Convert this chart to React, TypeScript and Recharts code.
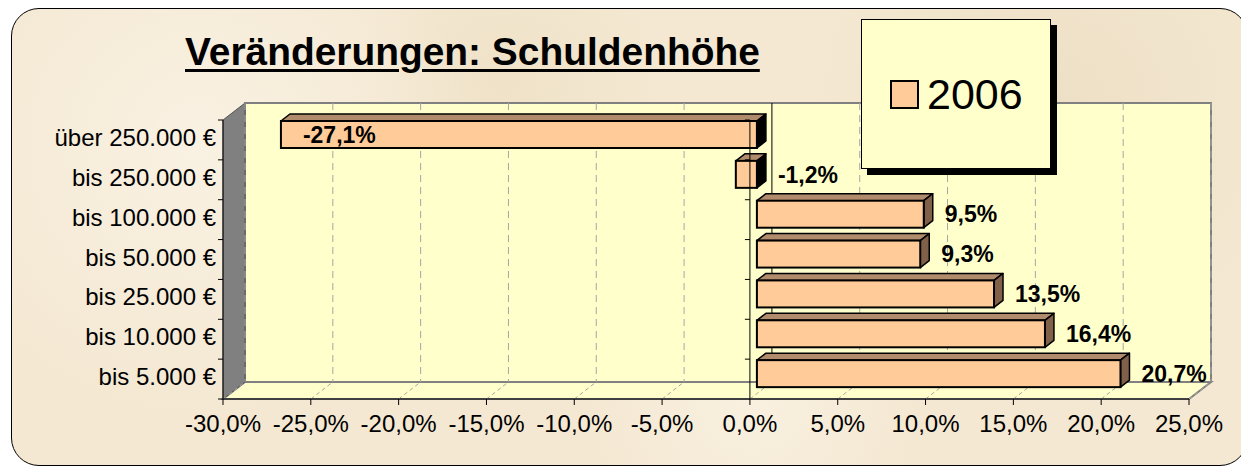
import React from 'react'
import {
  BarChart, Bar, XAxis, YAxis, CartesianGrid, ReferenceLine, LabelList, Legend
} from 'recharts'

// values, top row first
const categories = ['über 250.000 €', 'bis 250.000 €', 'bis 100.000 €', 'bis 50.000 €', 'bis 25.000 €', 'bis 10.000 €', 'bis 5.000 €']
const values2006 = [-27.1, -1.2, 9.5, 9.3, 13.5, 16.4, 20.7]
const xTicks = [-30, -25, -20, -15, -10, -5, 0, 5, 10, 15, 20, 25]
const seriesName = '2006'
const title = 'Veränderungen: Schuldenhöhe'

const data = categories.map((name, i) => ({ name, value: values2006[i] }))

const W = 1241
const H = 470
const PLOT_L = 223
const PLOT_R = 1189
const PLOT_T = 120
const PLOT_B = 399
// depth of the fake 3d walls and bars
const DX = 22
const DY = 17
const BAR_DX = 9
const BAR_DY = 7
const BAR_SHIFT = 7
const BAR_LIFT = 5
const FONT = 'Arial, "Liberation Sans", sans-serif'

const fmt = (v: number) => v.toFixed(1).replace('.', ',') + '%'

const Bar3D = (props: any) => {
  const { x, width, height, payload } = props
  const y = props.y - BAR_LIFT
  const x0 = Math.min(x, x + width) + BAR_SHIFT
  const w = Math.abs(width)
  const neg = payload.value < 0
  const top = `${x0},${y} ${x0 + BAR_DX},${y - BAR_DY} ${x0 + w + BAR_DX},${y - BAR_DY} ${x0 + w},${y}`
  const side = `${x0 + w},${y} ${x0 + w + BAR_DX},${y - BAR_DY} ${x0 + w + BAR_DX},${y + height - BAR_DY} ${x0 + w},${y + height}`
  return (
    <g>
      <polygon points={top} fill="#b08c6c" stroke="#000" strokeWidth={1.5} strokeLinejoin="round" />
      <polygon points={side} fill={neg ? '#000' : '#806048'} stroke="#000" strokeWidth={1.5} strokeLinejoin="round" />
      <rect x={x0} y={y} width={w} height={height} fill="#ffcc99" stroke="#000" strokeWidth={2} />
    </g>
  )
}

const BarLabel = (props: any) => {
  const { x, y, width, height, value } = props
  const left = Math.min(x, x + width) + BAR_SHIFT
  const right = Math.max(x, x + width) + BAR_SHIFT
  const inside = value < 0 && Math.abs(width) > 200
  const tx = inside ? left + 22 : right + BAR_DX + 12
  return (
    <text x={tx} y={y + height / 2 - BAR_LIFT} dy="0.36em" fontSize={23} fontWeight="bold" fontFamily={FONT} fill="#000">
      {fmt(value)}
    </text>
  )
}

const YTick = (props: any) => {
  const { x, y, payload, index } = props
  const step = (PLOT_B - PLOT_T) / categories.length
  return (
    <g>
      <line x1={PLOT_L - 5} y1={y - step / 2} x2={PLOT_L} y2={y - step / 2} stroke="#000" />
      {index === categories.length - 1 && (
        <line x1={PLOT_L - 5} y1={y + step / 2} x2={PLOT_L} y2={y + step / 2} stroke="#000" />
      )}
      <text x={x} y={y} dy="0.25em" textAnchor="end" fontSize={24} fontFamily={FONT} fill="#000">
        {payload.value}
      </text>
    </g>
  )
}

const gridLine = (p: any) => {
  const { x1, y1, y2 } = p
  const isZero = xTicks[p.index] === 0
  return (
    <g key={p.key}>
      <line x1={x1 + DX} y1={y1 - DY} x2={x1 + DX} y2={y2 - DY}
        stroke={isZero ? '#000' : '#a6a6a6'} strokeDasharray={isZero ? undefined : '7 5'} />
      <line x1={x1} y1={y2} x2={x1 + DX} y2={y2 - DY} stroke="#a6a6a6" strokeDasharray="4 3" />
    </g>
  )
}

const zeroLine = (p: any) => {
  const ya = Math.min(p.y1, p.y2)
  const yb = Math.max(p.y1, p.y2)
  const step = (yb - ya) / categories.length
  return (
    <g>
      <line x1={p.x1} y1={ya} x2={p.x1} y2={yb} stroke="#000" />
      {categories.map((c, i) => (
        <line key={c} x1={p.x1 - 5} y1={ya + i * step} x2={p.x1} y2={ya + i * step} stroke="#000" />
      ))}
    </g>
  )
}

const LegendBox = (props: any) => (
  <div style={{
    width: '100%', height: '100%', boxSizing: 'border-box', background: '#ffffcc',
    border: '1px solid #000', boxShadow: '6px 6px 0 #000', display: 'flex',
    alignItems: 'center', paddingLeft: 28, fontFamily: FONT
  }}>
    {(props.payload || []).map((e: any) => (
      <div key={e.value} style={{ display: 'flex', alignItems: 'center' }}>
        <span style={{ width: 29, height: 29, boxSizing: 'border-box', background: '#ffcc99', border: '2px solid #000' }} />
        <span style={{ fontSize: 43, marginLeft: 8, lineHeight: 1 }}>{e.value}</span>
      </div>
    ))}
  </div>
)

export default function App() {
  return (
    <div style={{ position: 'absolute', left: 0, top: 0, width: W, height: H, overflow: 'hidden', background: '#fff', fontFamily: FONT }}>
      <div style={{
        position: 'absolute', left: 11, top: 8, width: 1237, height: 458, boxSizing: 'border-box',
        border: '1.5px solid #000', borderRadius: 28,
        background: 'radial-gradient(circle at 15% 30%, #f9f1e2 0, transparent 25%), radial-gradient(circle at 60% 85%, #f9f0e0 0, transparent 20%), radial-gradient(circle at 85% 20%, #eee0c6 0, transparent 22%), radial-gradient(circle at 40% 15%, #efe2c8 0, transparent 18%), #f4e8d2'
      }} />
      <svg width={W} height={H} style={{ position: 'absolute', left: 0, top: 0 }}>
        <rect x={PLOT_L + DX} y={PLOT_T - DY} width={PLOT_R - PLOT_L} height={PLOT_B - PLOT_T}
          fill="#ffffcc" stroke="#808080" strokeWidth={2} />
        <polygon points={`${PLOT_L},${PLOT_B} ${PLOT_R},${PLOT_B} ${PLOT_R + DX},${PLOT_B - DY} ${PLOT_L + DX},${PLOT_B - DY}`}
          fill="#ffffcc" stroke="#808080" strokeWidth={2} />
        <polygon points={`${PLOT_L},${PLOT_T} ${PLOT_L + DX},${PLOT_T - DY} ${PLOT_L + DX},${PLOT_B - DY} ${PLOT_L},${PLOT_B}`}
          fill="#808080" stroke="#555" strokeWidth={1} />
      </svg>
      <div style={{
        position: 'absolute', left: 185, top: 33, fontSize: 38.9, lineHeight: '38px', fontWeight: 'bold',
        textDecoration: 'underline', textDecorationThickness: 3, textUnderlineOffset: 4, whiteSpace: 'nowrap', color: '#000'
      }}>
        {title}
      </div>
      <div style={{ position: 'absolute', left: 0, top: 0 }}>
        <BarChart width={W} height={H} data={data} layout="vertical"
          margin={{ top: PLOT_T, right: W - PLOT_R, bottom: H - PLOT_B - 30, left: 0 }}>
          <CartesianGrid horizontal={false} vertical={gridLine} />
          <XAxis type="number" domain={[-30, 25]} ticks={xTicks} tickFormatter={fmt} height={30}
            tickSize={6} tickMargin={10} stroke="#000" interval={0}
            tick={{ fontSize: 24, fontFamily: FONT, fill: '#000' }} />
          <YAxis type="category" dataKey="name" width={PLOT_L} tickSize={5} tickMargin={2}
            tickLine={false} stroke="#000" tick={<YTick />} interval={0} />
          <Legend layout="horizontal" verticalAlign="middle" align="center"
            wrapperStyle={{ left: 861, top: 19, width: 190, height: 150 }} content={<LegendBox />} />
          <Bar dataKey="value" name={seriesName} barSize={27} shape={<Bar3D />} isAnimationActive={false}>
            <LabelList dataKey="value" content={<BarLabel />} />
          </Bar>
          <ReferenceLine x={0} shape={zeroLine} />
        </BarChart>
      </div>
    </div>
  )
}
